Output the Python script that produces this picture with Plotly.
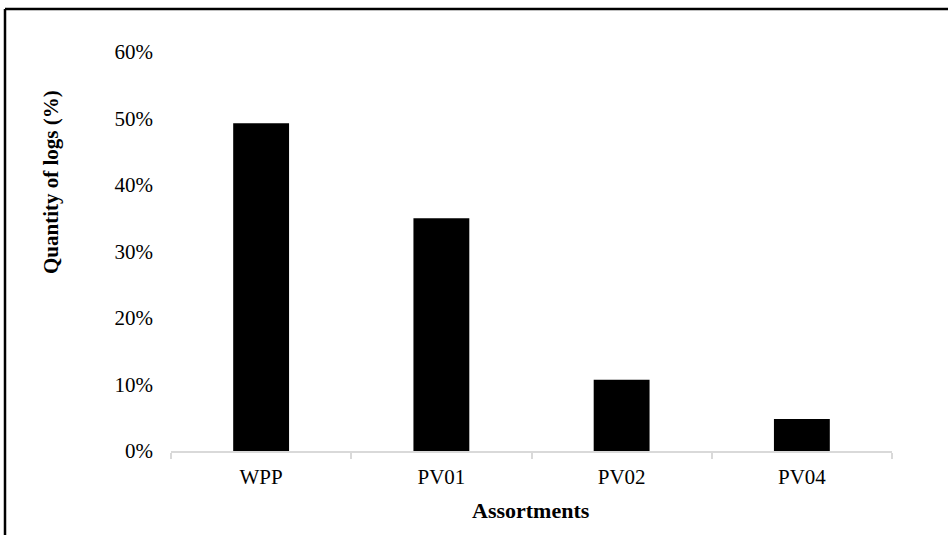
import plotly.graph_objects as go

categories = ["WPP", "PV01", "PV02", "PV04"]
values = [0.493, 0.350, 0.107, 0.048]
y_ticks = [0, 0.1, 0.2, 0.3, 0.4, 0.5, 0.6]
y_tick_labels = ["0%", "10%", "20%", "30%", "40%", "50%", "60%"]

W, H = 948, 535
L, R, T, B = 171, 56, 52, 84
pw, ph = W - L - R, H - T - B

def px(x):
    return (x - L) / pw

def py(y):
    return (H - B - y) / ph

font = "Liberation Serif, Times New Roman, serif"

fig = go.Figure(go.Bar(x=categories, y=values, marker=dict(color="black", line=dict(width=0))))

fig.update_layout(
    width=W, height=H,
    margin=dict(l=L, r=R, t=T, b=B),
    paper_bgcolor="white", plot_bgcolor="white",
    bargap=0.69,
    showlegend=False,
    font=dict(family=font, size=21, color="black"),
    xaxis=dict(
        showline=True, linecolor="#d9d9d9", linewidth=1.5,
        ticks="outside", tickcolor="#d9d9d9", ticklen=6, tickwidth=1.5,
        tickson="boundaries", showgrid=False,
        tickfont=dict(family=font, size=21, color="black"),
        ticklabelstandoff=6,
    ),
    yaxis=dict(
        range=[0, 0.6], tickvals=y_ticks, ticktext=y_tick_labels,
        showline=False, showgrid=False, zeroline=False, ticks="",
        tickfont=dict(family=font, size=21, color="black"),
        ticklabelstandoff=17,
    ),
    shapes=[
        dict(type="line", xref="paper", yref="paper", x0=px(5), x1=px(948), y0=py(9), y1=py(9),
             line=dict(color="black", width=2.5)),
        dict(type="line", xref="paper", yref="paper", x0=px(5), x1=px(5), y0=py(9), y1=py(535),
             line=dict(color="black", width=2.5)),
    ],
    annotations=[
        dict(text="<b>Assortments</b>", xref="paper", yref="paper", x=px(531), y=py(510),
             showarrow=False, font=dict(family=font, size=22, color="black"),
             xanchor="center", yanchor="middle"),
        dict(text="<b>Quantity of logs (%)</b>", xref="paper", yref="paper", x=px(51), y=py(182),
             showarrow=False, textangle=-90, font=dict(family=font, size=21, color="black"),
             xanchor="center", yanchor="middle"),
    ],
)

fig.write_html("out.html", config={"displayModeBar": False},
               post_script="document.body.style.margin='0';document.body.style.overflow='hidden';")
